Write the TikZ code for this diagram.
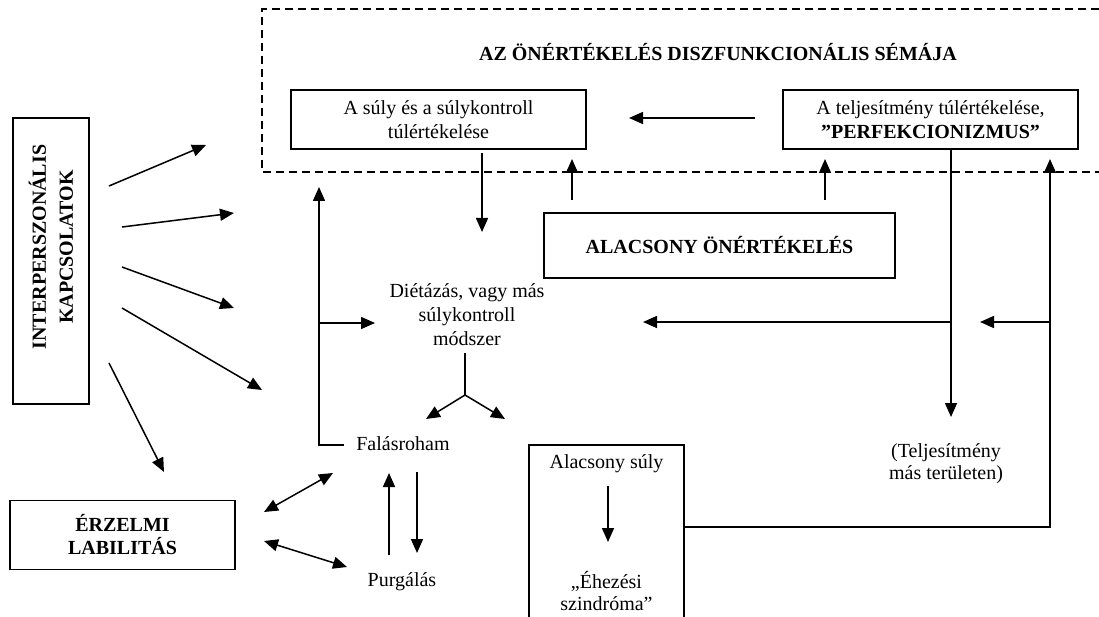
\documentclass[tikz,border=0pt]{standalone}
\usepackage{fontspec}
\setmainfont{Liberation Serif}
\usetikzlibrary{arrows.meta}
\begin{document}
\begin{tikzpicture}[x=1pt,y=-1pt,
  font=\fontsize{20}{24}\selectfont,
  box/.style={draw, line width=1.6pt, inner sep=0pt, align=center},
  txt/.style={inner sep=0pt, align=center},
  arr/.style={line width=1.5pt, -{Triangle[length=14pt,width=12pt]}},
  darr/.style={line width=1.5pt, {Triangle[length=14pt,width=12pt]}-{Triangle[length=14pt,width=12pt]}},
  ln/.style={line width=1.5pt},
  dashbox/.style={line width=1.3pt, dash pattern=on 8pt off 5pt}]
\useasboundingbox (0,0) rectangle (1099,617);
\fill[white] (0,0) rectangle (1099,617);

% dashed schema frame (open on the right)
\coordinate (dtr) at (1099,9);
\coordinate (dtl) at (262,9);
\coordinate (dbl) at (262,172);
\coordinate (dbr) at (1099,172);
\draw[dashbox] (dtr) -- (dtl) -- (dbl) -- (dbr);

\node[txt, font=\fontsize{20}{24}\selectfont\bfseries] (title) at (718,52) {AZ ÖNÉRTÉKELÉS DISZFUNKCIONÁLIS SÉMÁJA};

\node[box, minimum width=295pt, minimum height=59pt] (sulyA) at (438.5,119.5) {A súly és a súlykontroll\\túlértékelése};
\node[box, minimum width=295pt, minimum height=59pt] (perf) at (930.5,119.5) {A teljesítmény túlértékelése,\\\textbf{”PERFEKCIONIZMUS”}};
\node[box, minimum width=351pt, minimum height=65pt, font=\fontsize{20}{24}\selectfont\bfseries] (self) at (719.5,245.5) {ALACSONY ÖNÉRTÉKELÉS};

\node[box, minimum width=76pt, minimum height=286pt] (inter) at (51,261) {};
\node[txt, rotate=90, font=\fontsize{20}{27}\selectfont\bfseries] (intertext) at (51,247) {INTERPERSZONÁLIS\\KAPCSOLATOK};
\node[box, minimum width=225pt, minimum height=69pt, font=\fontsize{20}{23}\selectfont\bfseries] (erz) at (122.5,535) {ÉRZELMI\\LABILITÁS};

\node[txt, font=\fontsize{20}{24}\selectfont] (diet) at (467,315) {Diétázás, vagy más\\súlykontroll\\módszer};
\node[txt] (fal) at (403,444) {Falásroham};
\node[txt] (purg) at (402,582) {Purgálás};
\node[txt, font=\fontsize{20}{22}\selectfont] (telj) at (946,464) {(Teljesítmény\\más területen)};

% low weight box (open at the bottom)
\coordinate (lbl) at (529,617);
\coordinate (ltl) at (529,445);
\coordinate (ltr) at (684,445);
\coordinate (lbr) at (684,617);
\draw[line width=1.6pt] (lbl) -- (ltl) -- (ltr) -- (lbr);
\node[txt] (lowsuly) at (606.5,464) {Alacsony súly};
\node[txt, font=\fontsize{20}{22}\selectfont] (ehez) at (606.5,591) {„Éhezési\\szindróma”};
\coordinate (ls) at (608,486); \coordinate (le) at (608,542);
\draw[arr] (ls) -- (le);

% interpersonal arrows
\coordinate (i1s) at (109,186); \coordinate (i1e) at (206,145);
\coordinate (i2s) at (122,227); \coordinate (i2e) at (234,213);
\coordinate (i3s) at (122,267); \coordinate (i3e) at (234,308);
\coordinate (i4s) at (122,308); \coordinate (i4e) at (262,390);
\coordinate (i5s) at (109,363); \coordinate (i5e) at (164,472);
\draw[arr] (i1s) -- (i1e);
\draw[arr] (i2s) -- (i2e);
\draw[arr] (i3s) -- (i3e);
\draw[arr] (i4s) -- (i4e);
\draw[arr] (i5s) -- (i5e);

% perfectionism -> weight overvaluation
\coordinate (pa1) at (755,118); \coordinate (pa2) at (629,118);
\draw[arr] (pa1) -- (pa2);

% weight overvaluation -> dieting
\coordinate (sd1) at (482,153); \coordinate (sd2) at (482,232);
\draw[arr] (sd1) -- (sd2);

% low self-esteem -> schema
\coordinate (u1s) at (572,200); \coordinate (u1e) at (572,159);
\coordinate (u2s) at (825,200); \coordinate (u2e) at (825,159);
\draw[arr] (u1s) -- (u1e);
\draw[arr] (u2s) -- (u2e);

% binge loop back
\coordinate (f1) at (344,445);
\coordinate (f2) at (319,445);
\coordinate (f3) at (319,187);
\coordinate (fb) at (319,323);
\coordinate (fbe) at (375,323);
\draw[arr] (f1) -- (f2) -- (f3);
\draw[arr] (fb) -- (fbe);

% fork from dieting
\coordinate (k1) at (465,353);
\coordinate (k2) at (465,395);
\coordinate (k3) at (426,419);
\coordinate (k4) at (505,419);
\draw[ln] (k1) -- (k2);
\draw[arr] (k2) -- (k3);
\draw[arr] (k2) -- (k4);

% binge <-> purge
\coordinate (bp1) at (389,555); \coordinate (bp2) at (389,473);
\coordinate (bp3) at (417,472); \coordinate (bp4) at (417,553);
\draw[arr] (bp1) -- (bp2);
\draw[arr] (bp3) -- (bp4);

% emotional lability double arrows
\coordinate (e1) at (264,512); \coordinate (e2) at (333,473);
\coordinate (e3) at (264,541); \coordinate (e4) at (347,567);
\draw[darr] (e1) -- (e2);
\draw[darr] (e3) -- (e4);

% perfectionism branch
\coordinate (p1) at (951,149);
\coordinate (p2) at (951,417);
\coordinate (p3) at (951,322);
\coordinate (p4) at (643,322);
\draw[arr] (p1) -- (p2);
\draw[arr] (p3) -- (p4);

% low weight feedback
\coordinate (w1) at (684,527);
\coordinate (w2) at (1050,527);
\coordinate (w3) at (1050,159);
\coordinate (w4) at (1050,322);
\coordinate (w5) at (980,322);
\draw[arr] (w1) -- (w2) -- (w3);
\draw[arr] (w4) -- (w5);
\end{tikzpicture}
\end{document}
